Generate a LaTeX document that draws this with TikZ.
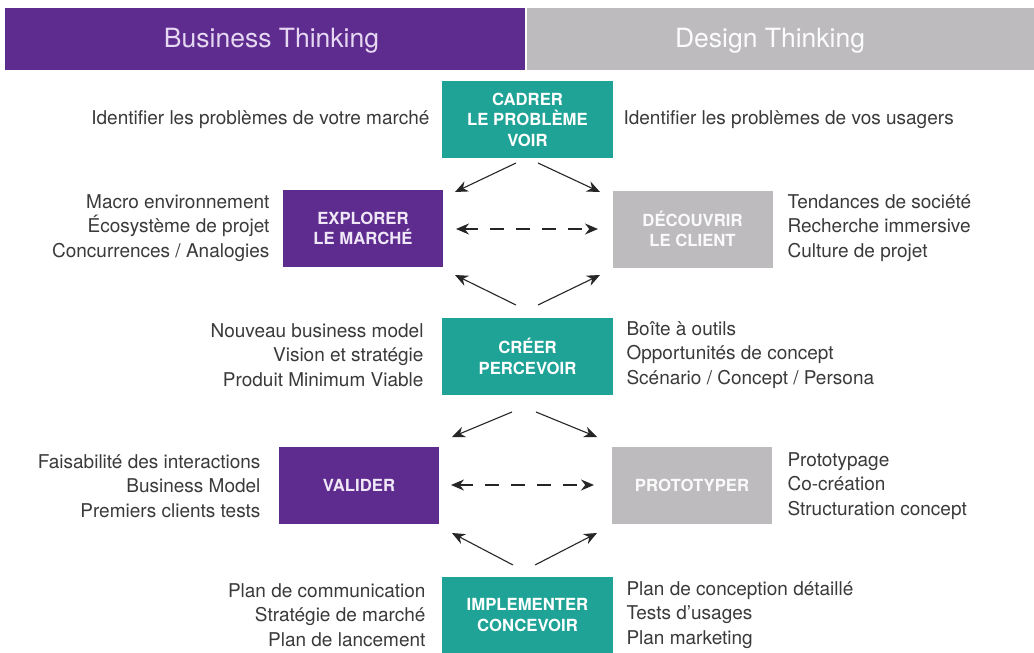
\documentclass[tikz,border=0pt]{standalone}
\usepackage{fontspec}
\setmainfont{TeX Gyre Heros}
\usetikzlibrary{arrows.meta}
\definecolor{purp}{HTML}{5E2B8E}
\definecolor{greyb}{HTML}{BDBBBE}
\definecolor{tealb}{HTML}{1FA396}
\definecolor{txt}{HTML}{3A3A3A}
\definecolor{lav}{HTML}{E6D8F2}
\begin{document}
\begin{tikzpicture}[x=1pt,y=-1pt,
  hdr/.style={minimum width=#1, minimum height=62pt, inner sep=0pt},
  htxt/.style={inner sep=0pt, font=\fontsize{26.5}{30}\selectfont},
  box/.style={minimum width=171pt, minimum height=77pt, inner sep=0pt, align=center, text=white, font=\fontsize{16.7}{20.5}\selectfont\bfseries},
  sbox/.style={minimum width=160pt, minimum height=77pt, inner sep=0pt, align=center, font=\fontsize{16.7}{20.5}\selectfont\bfseries},
  ltxt/.style={align=right, anchor=east, text=txt, font=\fontsize{19}{24.5}\selectfont},
  rtxt/.style={align=left, anchor=west, text=txt, font=\fontsize{19}{24.5}\selectfont},
  arr/.style={-{Stealth[length=13pt,width=11pt]}, line width=1.1pt, black!85},
  darr/.style={{Stealth[length=13pt,width=11pt]}-{Stealth[length=13pt,width=11pt]}, line width=1.3pt, black!85, dash pattern=on 14pt off 12pt}
]
\useasboundingbox (0,0) rectangle (1034,653);
\fill[white] (0,0) rectangle (1034,653);
% headers
\node[hdr=520pt, fill=purp] (bt) at (265,39) {};
\node[hdr=507pt, fill=greyb] (dt) at (780.5,39) {};
\node[htxt, text=lav] (btt) at (271.5,41) {Business Thinking};
\node[htxt, text=white!95!greyb] (dtt) at (770,41) {Design Thinking};
% central boxes
\node[box, fill=tealb] (cadrer) at (527.5,119.5) {CADRER\\LE PROBLÈME\\VOIR};
\node[box, fill=tealb] (creer) at (527.5,356.5) {CRÉER\\PERCEVOIR};
\node[box, fill=tealb, minimum height=76pt] (impl) at (527.5,615) {IMPLEMENTER\\CONCEVOIR};
% side boxes
\node[sbox, fill=purp, text=lav!60!white] (explorer) at (363,228.5) {EXPLORER\\LE MARCHÉ};
\node[sbox, fill=greyb, text=white!92!greyb] (decouvrir) at (692.5,229) {DÉCOUVRIR\\LE CLIENT};
\node[sbox, fill=purp, text=lav!60!white] (valider) at (359,485) {VALIDER};
\node[sbox, fill=greyb, text=white!92!greyb] (prototyper) at (692,485) {PROTOTYPER};
% arrow end points
\coordinate (a1s) at (516,163); \coordinate (a1e) at (455,192);
\coordinate (a2s) at (538,163); \coordinate (a2e) at (600,192);
\coordinate (d1l) at (456,229); \coordinate (d1r) at (598,229);
\coordinate (a3s) at (516,305); \coordinate (a3e) at (455,275);
\coordinate (a4s) at (538,305); \coordinate (a4e) at (600,275);
\coordinate (b1s) at (512,412); \coordinate (b1e) at (452,437);
\coordinate (b2s) at (536,412); \coordinate (b2e) at (597,437);
\coordinate (d2l) at (451,485); \coordinate (d2r) at (594,485);
\coordinate (b3s) at (513,565); \coordinate (b3e) at (452,533);
\coordinate (b4s) at (535,565); \coordinate (b4e) at (597,533);
\draw[arr] (a1s) -- (a1e);
\draw[arr] (a2s) -- (a2e);
\draw[darr] (d1l) -- (d1r);
\draw[arr] (a3s) -- (a3e);
\draw[arr] (a4s) -- (a4e);
\draw[arr] (b1s) -- (b1e);
\draw[arr] (b2s) -- (b2e);
\draw[darr] (d2l) -- (d2r);
\draw[arr] (b3s) -- (b3e);
\draw[arr] (b4s) -- (b4e);
% texts
\node[ltxt] (t1l) at (433,120) {Identifier les problèmes de votre marché};
\node[rtxt] (t1r) at (620,120) {Identifier les problèmes de vos usagers};
\node[ltxt] (t2l) at (273,228) {Macro environnement\\Écosystème de projet\\Concurrences / Analogies};
\node[rtxt] (t2r) at (784,228) {Tendances de société\\Recherche immersive\\Culture de projet};
\node[ltxt] (t3l) at (427,355) {Nouveau business model\\Vision et stratégie\\Produit Minimum Viable};
\node[rtxt] (t3r) at (623,355) {Boîte à outils\\Opportunités de concept\\Scénario / Concept / Persona};
\node[ltxt] (t4l) at (264,486) {Faisabilité des interactions\\Business Model\\Premiers clients tests};
\node[rtxt] (t4r) at (784,486) {Prototypage\\Co-création\\Structuration concept};
\node[ltxt] (t5l) at (429,615) {Plan de communication\\Stratégie de marché\\Plan de lancement};
\node[rtxt] (t5r) at (623,615) {Plan de conception détaillé\\Tests d’usages\\Plan marketing};
\end{tikzpicture}
\end{document}
